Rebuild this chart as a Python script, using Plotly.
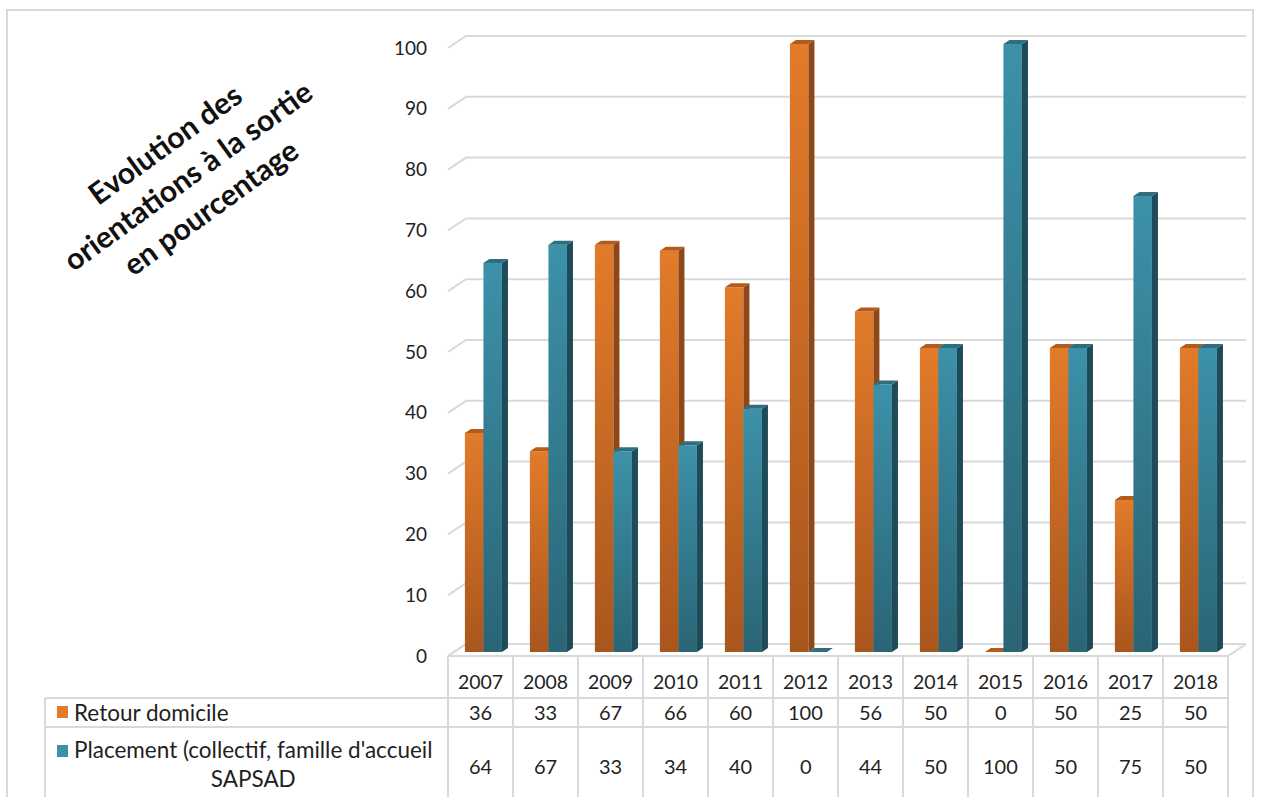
import plotly.graph_objects as go

# ---------------- data ----------------
years = ["2007", "2008", "2009", "2010", "2011", "2012",
         "2013", "2014", "2015", "2016", "2017", "2018"]
retour = [36, 33, 67, 66, 60, 100, 56, 50, 0, 50, 25, 50]
placement = [64, 67, 33, 34, 40, 0, 44, 50, 100, 50, 75, 50]
y_ticks = [0, 10, 20, 30, 40, 50, 60, 70, 80, 90, 100]
series_names = ["Retour domicile",
                "Placement (collectif, famille d'accueil<br>SAPSAD"]
title_text = "Evolution des<br>orientations à la sortie<br>en pourcentage"

# ---------------- geometry / style ----------------
W, H = 1261, 797
PL, PR, PT, PB = 440, 1252, 20, 660          # plot area in px
X0PX, XUNIT = 480.5, 65.0                     # px of category 0, px per category
Y0PX, YUNIT = 652.0, 6.08                     # px of value 0, px per unit
xrange_ = [(PL - X0PX) / XUNIT, (PR - X0PX) / XUNIT]
yrange_ = [(Y0PX - PB) / YUNIT, (Y0PX - PT) / YUNIT]

DEPTH_X = 18 / XUNIT
DEPTH_Y = 12 / YUNIT
BAR_DX = DEPTH_X / 3
BAR_DY = DEPTH_Y / 3
OR_X0, SPLIT, BL_X1 = -0.24, 0.045, 0.33

GRID = "#D9D9D9"
FONT = "Lato"
TXT = "#1f1f1f"

OR_TOP, OR_BOT = "#E27B2A", "#A9561D"
OR_SIDE, OR_CAP = "#8E4716", "#B25B1D"
BL_TOP, BL_BOT = "#3C91A9", "#2A6575"
BL_SIDE, BL_CAP = "#1F4B58", "#2D6F81"


def xp(px):
    return (px - PL) / (PR - PL)


def yp(py):
    return (PB - py) / (PB - PT)


def xd2px(d):
    return X0PX + d * XUNIT


fig = go.Figure()

# floor
fl_y_front = -DEPTH_Y / 3
fl_y_back = 2 * DEPTH_Y / 3
n = len(years)
fig.add_trace(go.Scatter(
    x=[-0.5, n - 0.5, n - 0.5 + DEPTH_X, -0.5 + DEPTH_X, -0.5],
    y=[fl_y_front, fl_y_front, fl_y_back, fl_y_back, fl_y_front],
    mode="lines", fill="toself", fillcolor="white",
    line=dict(color=GRID, width=2), hoverinfo="skip", showlegend=False))

# gridlines (side wall slant + back wall)
gx, gy = [], []
for v in y_ticks:
    gx += [-0.5, -0.5 + DEPTH_X, n - 0.5 + DEPTH_X, None]
    gy += [v + fl_y_front, v + fl_y_back, v + fl_y_back, None]
fig.add_trace(go.Scatter(x=gx, y=gy, mode="lines",
                         line=dict(color=GRID, width=2),
                         hoverinfo="skip", showlegend=False))


def add_series(vals, x0, x1, ctop, cbot, cside, ccap):
    # front faces with vertical gradient
    for k, v in enumerate(vals):
        if v <= 0:
            continue
        fig.add_trace(go.Scatter(
            x=[k + x0, k + x1, k + x1, k + x0, k + x0],
            y=[0, 0, v, v, 0],
            mode="lines", line=dict(width=0), fill="toself",
            fillgradient=dict(type="vertical",
                              colorscale=[[0, cbot], [1, ctop]]),
            hoverinfo="skip", showlegend=False))
    # side faces
    sx, sy = [], []
    for k, v in enumerate(vals):
        if v <= 0:
            continue
        xr = k + x1
        sx += [xr, xr + BAR_DX, xr + BAR_DX, xr, xr, None]
        sy += [0, BAR_DY, v + BAR_DY, v, 0, None]
    fig.add_trace(go.Scatter(x=sx, y=sy, mode="lines", line=dict(width=0),
                             fill="toself", fillcolor=cside,
                             hoverinfo="skip", showlegend=False))
    # top faces
    tx, ty = [], []
    for k, v in enumerate(vals):
        xl, xr = k + x0, k + x1
        tx += [xl, xl + BAR_DX, xr + BAR_DX, xr, xl, None]
        ty += [v, v + BAR_DY, v + BAR_DY, v, v, None]
    fig.add_trace(go.Scatter(x=tx, y=ty, mode="lines", line=dict(width=0),
                             fill="toself", fillcolor=ccap,
                             hoverinfo="skip", showlegend=False))


add_series(retour, OR_X0, SPLIT, OR_TOP, OR_BOT, OR_SIDE, OR_CAP)
add_series(placement, SPLIT, BL_X1, BL_TOP, BL_BOT, BL_SIDE, BL_CAP)

# ---------------- data table ----------------
shapes = []
line = dict(color=GRID, width=2)
tbl_left, tbl_right = 45, xd2px(n - 0.5)
row1_top, row2_top, tbl_bottom = 698, 727, 800
for yy in (row1_top, row2_top):
    shapes.append(dict(type="line", xref="paper", yref="paper",
                       x0=xp(tbl_left), x1=xp(tbl_right), y0=yp(yy), y1=yp(yy),
                       line=line))
shapes.append(dict(type="line", xref="paper", yref="paper",
                   x0=xp(tbl_left), x1=xp(tbl_left),
                   y0=yp(row1_top), y1=yp(tbl_bottom), line=line))
for j in range(n + 1):
    xx = xd2px(j - 0.5)
    shapes.append(dict(type="line", xref="paper", yref="paper",
                       x0=xp(xx), x1=xp(xx), y0=yp(656), y1=yp(tbl_bottom),
                       line=line))
# outer frame
shapes.append(dict(type="rect", xref="paper", yref="paper",
                   x0=xp(7), x1=xp(1253), y0=yp(10), y1=yp(805),
                   line=line, fillcolor="rgba(0,0,0,0)", layer="below"))
# legend keys
for (ya, yb), c in zip([(706, 718), (745, 757)], [OR_TOP, BL_TOP]):
    shapes.append(dict(type="rect", xref="paper", yref="paper",
                       x0=xp(57), x1=xp(68), y0=yp(ya), y1=yp(yb),
                       line=dict(width=0), fillcolor=c))

annotations = []
row_centers = [712, 764]
for name, rc in zip(series_names, row_centers):
    annotations.append(dict(xref="paper", yref="paper", x=xp(72), y=yp(rc),
                            xanchor="left", yanchor="middle", align="center",
                            text=name, showarrow=False,
                            font=dict(family=FONT, size=22.5, color=TXT)))
for vals, rc in zip([retour, placement], [712, 766]):
    for k, v in enumerate(vals):
        annotations.append(dict(xref="x", yref="paper", x=k, y=yp(rc),
                                xanchor="center", yanchor="middle",
                                text=str(v), showarrow=False,
                                font=dict(family=FONT, size=20, color=TXT)))
# title
annotations.append(dict(xref="paper", yref="paper", x=xp(187), y=yp(175),
                        xanchor="center", yanchor="middle", align="center",
                        text="<b>" + title_text + "</b>", textangle=-36,
                        showarrow=False,
                        font=dict(family=FONT, size=30, color="#111")))

fig.update_layout(
    width=W, height=H,
    margin=dict(l=PL, r=W - PR, t=PT, b=H - PB, pad=0),
    paper_bgcolor="white", plot_bgcolor="rgba(0,0,0,0)",
    shapes=shapes, annotations=annotations, showlegend=False,
    xaxis=dict(range=xrange_, showgrid=False, zeroline=False, showline=False,
               tickmode="array", tickvals=list(range(n)), ticktext=years,
               ticks="", ticklabelstandoff=8,
               tickfont=dict(family=FONT, size=19.5, color=TXT),
               fixedrange=True),
    yaxis=dict(range=yrange_, showgrid=False, zeroline=False, showline=False,
               tickmode="array", tickvals=[v + fl_y_front for v in y_ticks],
               ticktext=[str(v) for v in y_ticks],
               ticks="", ticklabelstandoff=12,
               tickfont=dict(family=FONT, size=19, color=TXT),
               fixedrange=True),
)

fig.write_html("out.html")
